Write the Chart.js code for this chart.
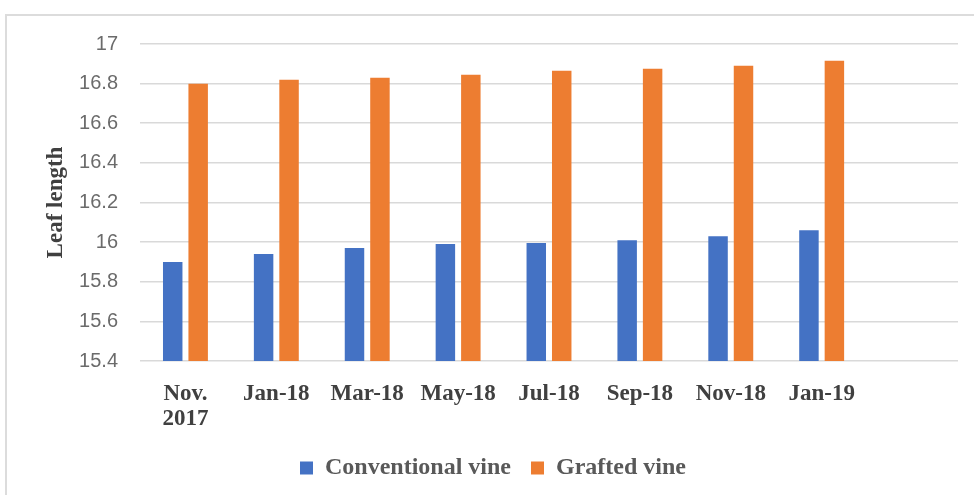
<!DOCTYPE html>
<html>
<head>
<meta charset="utf-8">
<script src="https://cdn.jsdelivr.net/npm/chart.js@4/dist/chart.umd.min.js"></script>
<style>
  html, body { margin: 0; padding: 0; background: #ffffff; }
  #wrap { position: relative; width: 974px; height: 495px; overflow: hidden; }
  #frame { position: absolute; left: 5px; top: 14px; width: 1000px; height: 520px;
           border: 2px solid #dcdcdc; box-sizing: border-box; }
  #c { position: absolute; left: 0; top: 0; }
</style>
</head>
<body>
<div id="wrap">
  <div id="frame"></div>
  <canvas id="c" width="974" height="495"></canvas>
</div>
<script>
// Sampling dates (the trailing empty slot keeps room on the right of the axis)
const categories = [['Nov.', '2017'], 'Jan-18', 'Mar-18', 'May-18', 'Jul-18', 'Sep-18', 'Nov-18', 'Jan-19', ''];

// Mean leaf length per sampling date
const conventionalVine = [15.90, 15.94, 15.97, 15.99, 15.995, 16.01, 16.03, 16.06];
const graftedVine      = [16.80, 16.82, 16.83, 16.845, 16.865, 16.875, 16.89, 16.915];

// Value axis settings
const yMin = 15.4;
const yMax = 17;
const yStep = 0.2;

const serifBold = { family: '"Liberation Serif", "Times New Roman", serif', weight: 'bold' };

new Chart(document.getElementById('c'), {
  type: 'bar',
  data: {
    labels: categories,
    datasets: [
      {
        label: 'Conventional vine',
        data: conventionalVine,
        backgroundColor: '#4472C4',
        categoryPercentage: 0.56,
        barPercentage: 0.765
      },
      {
        label: 'Grafted vine',
        data: graftedVine,
        backgroundColor: '#ED7D31',
        categoryPercentage: 0.56,
        barPercentage: 0.765
      }
    ]
  },
  options: {
    responsive: false,
    animation: false,
    layout: { padding: { left: 28, right: 16, top: 44, bottom: 5 } },
    plugins: {
      tooltip: { enabled: false },
      legend: {
        position: 'bottom',
        labels: {
          boxWidth: 13,
          boxHeight: 13,
          padding: 20,
          color: '#595959',
          font: { ...serifBold, size: 24 }
        }
      }
    },
    scales: {
      x: {
        grid: { display: false, drawTicks: false },
        border: { display: false },
        ticks: {
          color: '#404040',
          padding: 20,
          maxRotation: 0,
          autoSkip: false,
          font: { ...serifBold, size: 23, lineHeight: 1.1 }
        },
        afterFit: (s) => { s.height = 75; }
      },
      y: {
        min: yMin,
        max: yMax,
        grid: { color: '#d9d9d9', lineWidth: 1.5, drawTicks: false },
        border: { display: false },
        ticks: {
          stepSize: yStep,
          padding: 22,
          color: '#6b6b6b',
          font: { family: '"Liberation Sans", Arial, sans-serif', size: 20 },
          callback: (v) => Number(v.toFixed(1)).toString()
        },
        title: {
          display: true,
          text: 'Leaf length',
          color: '#404040',
          padding: { top: 14, bottom: 0 },
          font: { ...serifBold, size: 23 }
        },
        afterFit: (s) => { s.width = 112; }
      }
    }
  }
});
</script>
</body>
</html>
